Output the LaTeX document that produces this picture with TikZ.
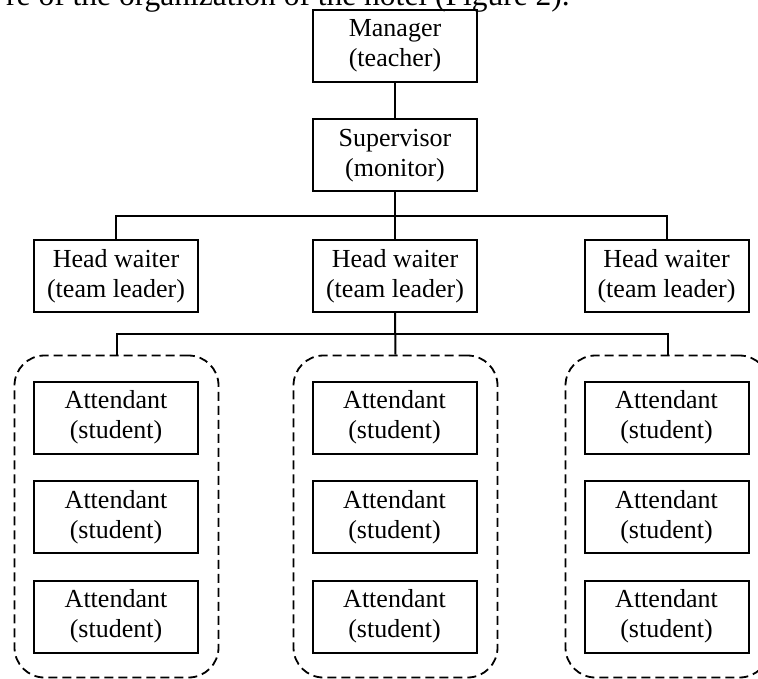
\documentclass[tikz,border=0pt]{standalone}
\usepackage{fontspec}
\setmainfont{Liberation Serif}
\begin{document}
\begin{tikzpicture}[x=1pt,y=-1pt,
  box/.style={draw, line width=2pt, minimum width=164pt, minimum height=72pt, inner sep=0pt, align=center, font=\fontsize{26}{30}\selectfont},
  group/.style={draw, line width=1.8pt, dash pattern=on 9pt off 5pt, rounded corners=30pt, minimum width=204pt, minimum height=322pt, inner sep=0pt},
  link/.style={line width=2pt}]
\useasboundingbox (0,0) rectangle (758,679);
\clip (0,0) rectangle (758,679);
% cut-off text line above the figure
\node[anchor=base east, inner sep=0pt, font=\fontsize{31.5}{36}\selectfont] (intro) at (570,6) {re of the organization of the hotel (Figure 2).};
% top levels
\node[box] (mgr) at (395,46) {Manager\\(teacher)};
\node[box] (sup) at (395,155.5) {Supervisor\\(monitor)};
% head waiters
\node[box] (hw1) at (116,276) {Head waiter\\(team leader)};
\node[box] (hw2) at (395,276) {Head waiter\\(team leader)};
\node[box] (hw3) at (666.5,276) {Head waiter\\(team leader)};
% groups
\node[group] (g1) at (116.5,516.5) {};
\node[group] (g2) at (395.5,516.5) {};
\node[group] (g3) at (667.5,516.5) {};
% attendants
\foreach \i/\x in {1/116,2/394.5,3/666.5}{
  \node[box] (a\i1) at (\x,417.5) {Attendant\\(student)};
  \node[box] (a\i2) at (\x,517) {Attendant\\(student)};
  \node[box] (a\i3) at (\x,616.5) {Attendant\\(student)};
}
% connectors
\draw[link] (mgr.south) -- (sup.north);
\draw[link] (sup.south) -- (hw2.north);
\draw[link] (hw1.north) -- ++(0,-23) -| (hw3.north);
\draw[link] (hw2.south) -- (g2.north);
\draw[link] (g1.north) -- ++(0,-21) -| (g3.north);
\end{tikzpicture}
\end{document}
